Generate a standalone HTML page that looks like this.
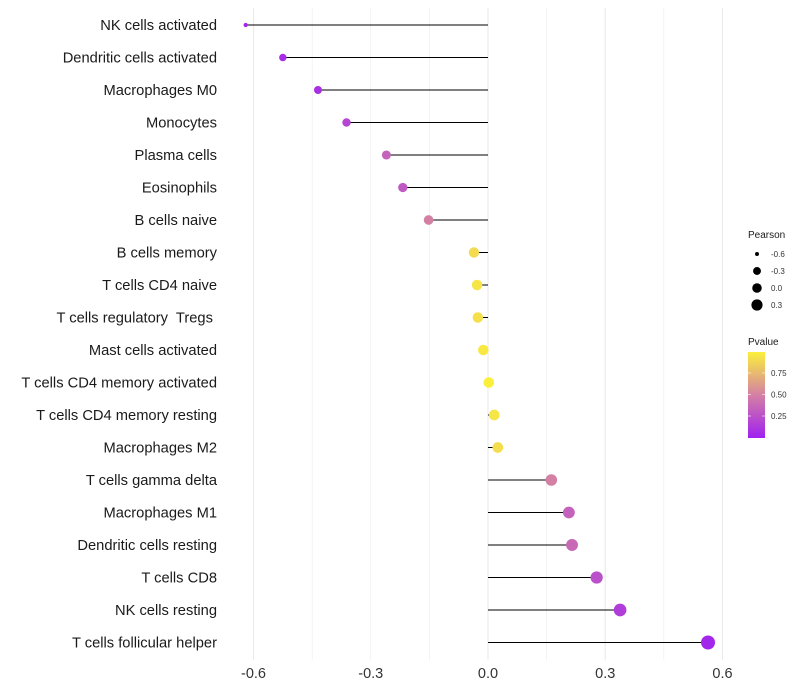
<!DOCTYPE html>
<html><head><meta charset="utf-8"><style>
body{margin:0;background:#fff}
svg{display:block;font-family:"Liberation Sans",sans-serif}
text{white-space:pre}
</style></head><body>
<svg id="chart" width="800" height="700"></svg>
<script>
const categories=["NK cells activated","Dendritic cells activated","Macrophages M0","Monocytes","Plasma cells","Eosinophils","B cells naive","B cells memory","T cells CD4 naive","T cells regulatory  Tregs ","Mast cells activated","T cells CD4 memory activated","T cells CD4 memory resting","Macrophages M2","T cells gamma delta","Macrophages M1","Dendritic cells resting","T cells CD8","NK cells resting","T cells follicular helper"];
const pearson=[-0.62,-0.525,-0.435,-0.362,-0.26,-0.218,-0.152,-0.036,-0.028,-0.026,-0.012,0.002,0.016,0.025,0.162,0.207,0.215,0.278,0.338,0.563];
const pvalues=[0.02,0.06,0.08,0.2,0.35,0.3,0.5,0.9,0.95,0.93,0.97,1.0,0.95,0.92,0.5,0.35,0.38,0.25,0.15,0.03];
const xTicks=[-0.6,-0.3,0.0,0.3,0.6];
const xTickLabels=["-0.6","-0.3","0.0","0.3","0.6"];
const sizeLegend=[-0.6,-0.3,0.0,0.3];
const colorTicks=[0.25,0.5,0.75];

const NS="http://www.w3.org/2000/svg";
const svg=document.getElementById('chart');
const X0=488,K=390.8,Y0=25,DY=32.5;
const xs=v=>X0+v*K;
const ys=i=>Y0+i*DY;
const rs=v=>Math.max(2,5.3+3*v-(v<-0.58?1.3:0));
function col(p){
  const stops=[[0,[160,32,240]],[0.5,[212,128,164]],[1,[250,240,60]]];
  p=Math.max(0,Math.min(1,p));
  let a=stops[0],b=stops[1];if(p>0.5){a=stops[1];b=stops[2];}
  const t=(p-a[0])/(b[0]-a[0]);
  const c=a[1].map((v,k)=>Math.round(v+(b[1][k]-v)*t));
  return `rgb(${c})`;
}
function mk(tag,at,parent){const e=document.createElementNS(NS,tag);for(const k in at)e.setAttribute(k,at[k]);(parent||svg).appendChild(e);return e;}

for(let v=-0.6;v<=0.61;v+=0.15){
  const g=mk('line',{x1:xs(v),x2:xs(v),y1:8,y2:660,stroke:'#ebebeb','stroke-width':Math.abs((v*100)%30)<1?1.1:0.6});
  
  
}
xTicks.forEach((v,i)=>{
  const t=mk('text',{x:xs(v),y:678,'text-anchor':'middle','font-size':14.5,fill:'#333'});
  t.textContent=xTickLabels[i];
  
  
});
categories.forEach((c,i)=>{
  const y=ys(i);
  const t=mk('text',{x:217,y:y+5,'text-anchor':'end','font-size':14.7,fill:'#1a1a1a'});
  t.textContent=c;
  
  
  const l=mk('line',{x1:xs(0),x2:xs(pearson[i]),y1:y,y2:y,stroke:'#000','stroke-width':1});
  
  
  const d=mk('circle',{cx:xs(pearson[i]),cy:y,r:rs(pearson[i]),fill:col(pvalues[i])});
  
  
});
const lt=mk('text',{x:748,y:238,'font-size':10,fill:'#1a1a1a'});lt.textContent='Pearson';


sizeLegend.forEach((v,i)=>{
  const y=254+i*17;
  const c=mk('circle',{cx:757,cy:y,r:rs(v)*0.9,fill:'#000'});
  
  
  const t=mk('text',{x:771,y:y+3,'font-size':8,fill:'#333'});t.textContent=v.toFixed(1);
  
  
});
const ct=mk('text',{x:748,y:345,'font-size':10,fill:'#1a1a1a'});ct.textContent='Pvalue';


const defs=mk('defs',{});
const gr=mk('linearGradient',{id:'pg',x1:0,y1:1,x2:0,y2:0},defs);
[0,0.25,0.5,0.75,1].forEach(o=>mk('stop',{offset:o,'stop-color':col(o)},gr));
const bar=mk('rect',{x:748,y:352,width:17,height:86,fill:'url(#pg)'});


const cy=p=>437.5-p*86;
colorTicks.forEach(p=>{
  mk('line',{x1:748,x2:751,y1:cy(p),y2:cy(p),stroke:'#fff','stroke-width':0.6});
  mk('line',{x1:762,x2:765,y1:cy(p),y2:cy(p),stroke:'#fff','stroke-width':0.6});
  const t=mk('text',{x:771,y:cy(p)+3,'font-size':8,fill:'#333'});t.textContent=p.toFixed(2);
  
  
});
</script>
</body></html>
